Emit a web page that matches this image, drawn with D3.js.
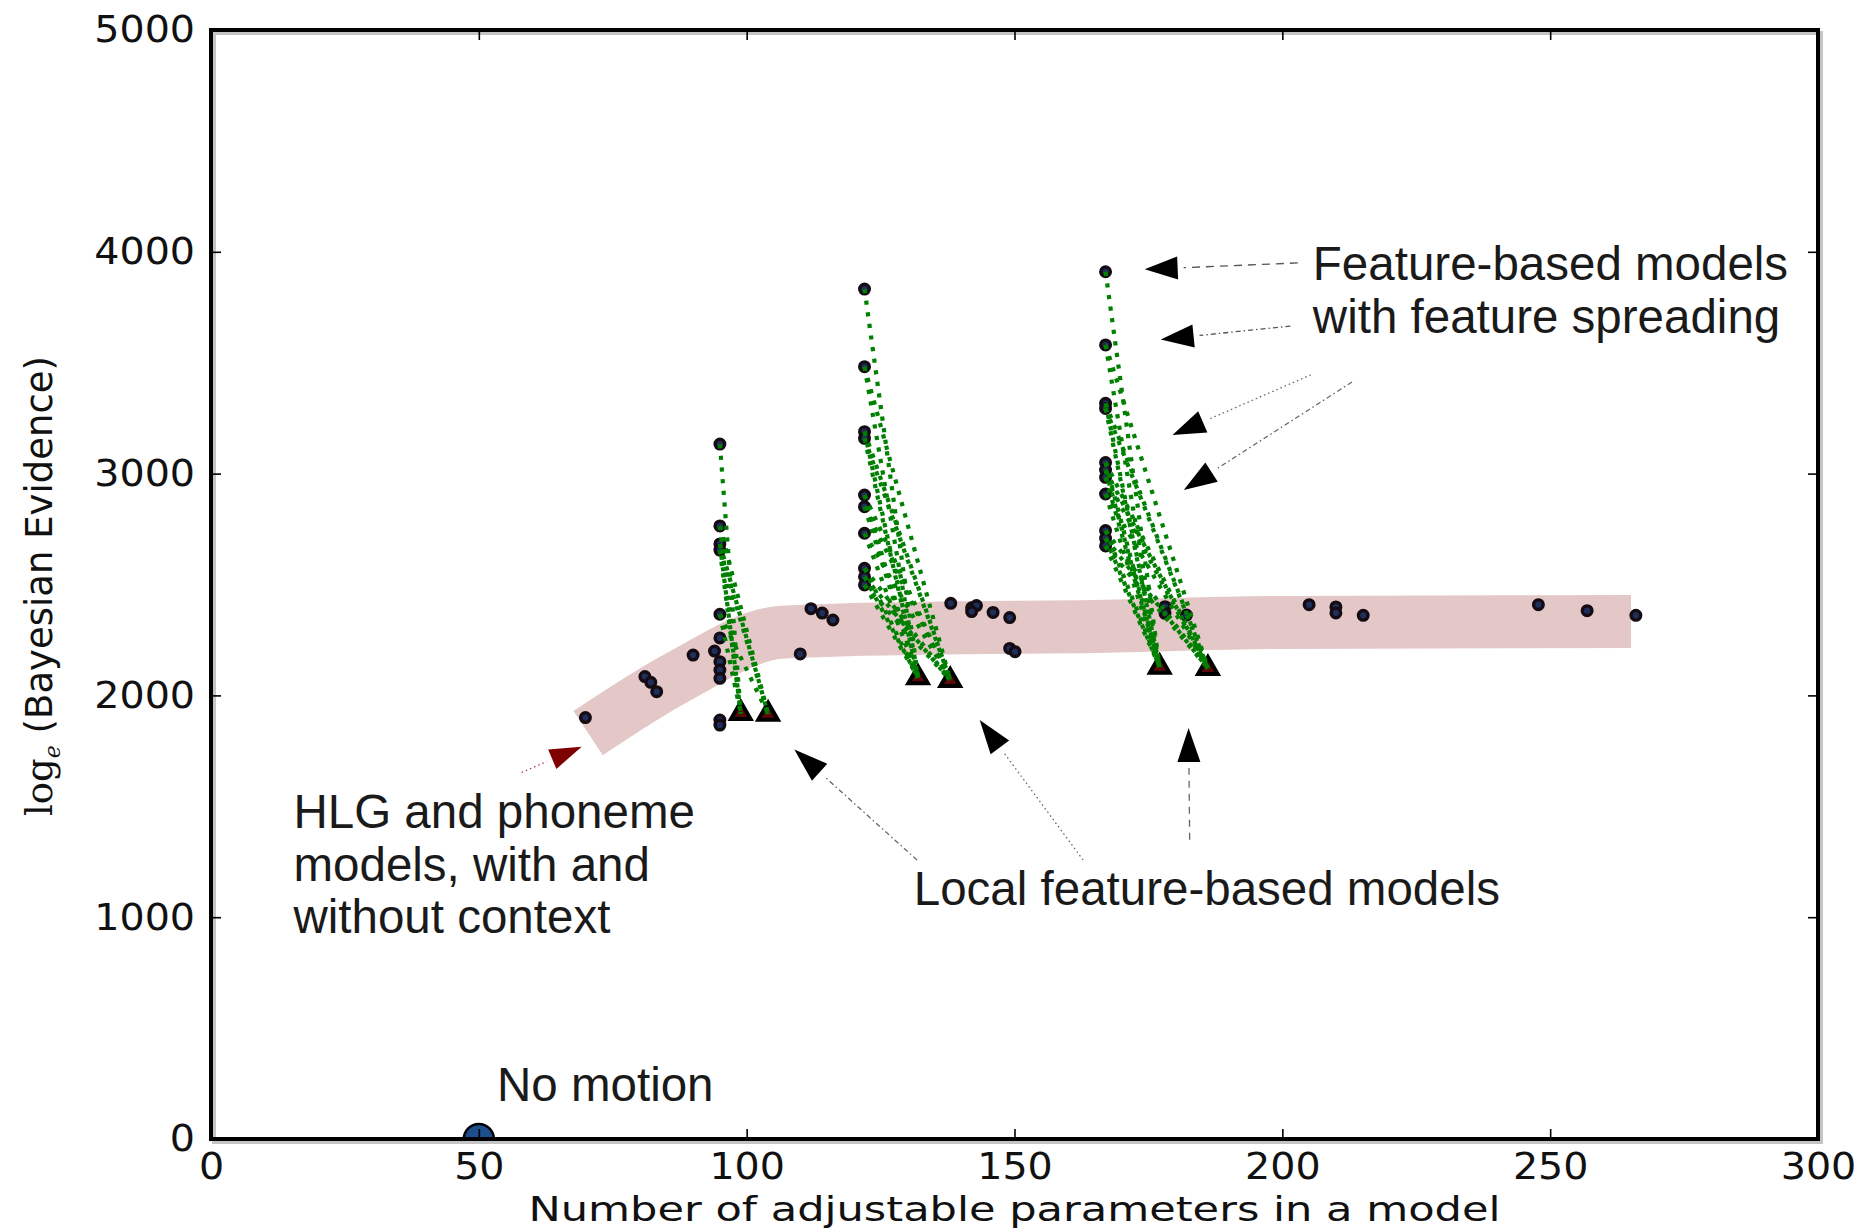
<!DOCTYPE html>
<html>
<head>
<meta charset="utf-8">
<script src="https://cdn.jsdelivr.net/npm/d3@7"></script>
<style>
  html, body { margin: 0; padding: 0; background: #ffffff; }
  svg { display: block; }
</style>
</head>
<body>
<svg id="chart" width="1860" height="1231"></svg>
<script>
// ---- axis ticks ----
const xTicks = [0, 50, 100, 150, 200, 250, 300];
const yTicks = [0, 1000, 2000, 3000, 4000, 5000];

// ---- feature-based models with feature spreading (one column per base size) ----
const spreadA_x = 95.0;
const spreadA_y = [3133, 2764, 2683, 2655, 2366];
const spreadB_x = 122.0;
const spreadB_y = [3832, 3482, 3189, 3159, 2903, 2851, 2731, 2573, 2535, 2498];
const spreadC_x = 167.0;
const spreadC_y = [3910, 3580, 3317, 3294, 3050, 3016, 2983, 2908, 2743, 2708, 2674];

// ---- local feature-based models (two per column) ----
const localA_x = [98.9, 104.0];
const localA_y = [1919, 1916];
const localB_x = [132.0, 138.0];
const localB_y = [2080, 2068];
const localC_x = [177.1, 186.1];
const localC_y = [2128, 2122];

// ---- HLG / phoneme and other models ----
const otherX = [69.9, 81.0, 82.1, 83.2, 90.0, 94.0, 95.0, 95.0, 95.0, 95.0, 95.0, 95.0,
                110.0, 112.0, 114.1, 116.1, 138.1, 142.0, 142.9, 142.0, 146.0, 149.1,
                149.1, 150.1, 178.1, 178.1, 182.1, 205.0, 210.0, 210.0, 215.1, 247.8,
                256.9, 266.0];
const otherY = [1900, 2085, 2059, 2017, 2182, 2200, 2259, 2152, 2114, 2077, 1889, 1866,
                2187, 2391, 2371, 2340, 2415, 2395, 2405, 2378, 2374, 2351,
                2212, 2197, 2400, 2370, 2362, 2409, 2399, 2372, 2361, 2409,
                2382, 2361];

// ---- baseline model ----
const noMotionX = [50];
const noMotionY = [0];

// ---- highlighted trend band (centre line) ----
const bandX = [70.4, 87.5, 106.2, 117.4, 136.1, 162.2, 199.6, 265.1];
const bandY = [1830, 2087, 2284, 2295, 2304, 2310, 2329, 2333];

// ---- chart setup ----
const svg = d3.select("#chart");
const x = d3.scaleLinear().domain([0, 300]).range([211, 1818]);
const y = d3.scaleLinear().domain([0, 5000]).range([1139, 30]);

svg.append("defs").append("clipPath").attr("id", "plotClip")
  .append("rect")
  .attr("x", x(0)).attr("y", y(5000))
  .attr("width", x(300) - x(0)).attr("height", y(0) - y(5000));

const plot = svg.append("g").attr("clip-path", "url(#plotClip)");

// trend band
plot.append("path")
  .datum(d3.zip(bandX, bandY))
  .attr("d", d3.line().x(d => x(d[0])).y(d => y(d[1])).curve(d3.curveMonotoneX))
  .attr("fill", "none")
  .attr("stroke", "#e4c8c8")
  .attr("stroke-width", 53)
  .attr("stroke-linecap", "butt");

// circles for every model
const groups = [
  { cx: spreadA_x, ys: spreadA_y, lx: localA_x, ly: localA_y },
  { cx: spreadB_x, ys: spreadB_y, lx: localB_x, ly: localB_y },
  { cx: spreadC_x, ys: spreadC_y, lx: localC_x, ly: localC_y }
];

const circlePts = d3.zip(otherX, otherY);
groups.forEach(g => g.ys.forEach(v => circlePts.push([g.cx, v])));

plot.append("g").selectAll("circle")
  .data(circlePts)
  .join("circle")
  .attr("cx", d => x(d[0]))
  .attr("cy", d => y(d[1]))
  .attr("r", 4.8)
  .attr("fill", "#1f2f5c")
  .attr("stroke", "#150b12")
  .attr("stroke-width", 3.4);

// local feature-based models as triangles
const tri = d3.symbol().type(d3.symbolTriangle).size(165);
const triPts = [];
groups.forEach(g => g.lx.forEach((v, i) => triPts.push([v, g.ly[i]])));
plot.append("g").selectAll("path")
  .data(triPts)
  .join("path")
  .attr("d", tri)
  .attr("transform", d => `translate(${x(d[0])},${y(d[1])})`)
  .attr("fill", "#5a0808")
  .attr("stroke", "#000")
  .attr("stroke-width", 4)
  .attr("stroke-linejoin", "miter");

// feature-spreading paths from each spread model down to its local models
const links = [];
groups.forEach(g => {
  g.ys.forEach((v, k) => {
    g.lx.forEach((lxv, i) => {
      if (k === 0 && i === 1) return;
      links.push([[g.cx, v], [lxv, g.ly[i]]]);
    });
  });
});
plot.append("g").selectAll("line")
  .data(links)
  .join("line")
  .attr("x1", d => x(d[0][0])).attr("y1", d => y(d[0][1]))
  .attr("x2", d => x(d[1][0])).attr("y2", d => y(d[1][1]))
  .attr("stroke", "#008000")
  .attr("stroke-width", 4.2)
  .attr("stroke-dasharray", "4.2,7.5");

// no-motion baseline model
plot.append("g").selectAll("circle")
  .data(d3.zip(noMotionX, noMotionY))
  .join("circle")
  .attr("cx", d => x(d[0]))
  .attr("cy", d => y(d[1]))
  .attr("r", 15)
  .attr("fill", "#1d4f8e")
  .attr("stroke", "#000")
  .attr("stroke-width", 2.5);

// ---- frame with soft shadow ----
const fw = x(300) - x(0), fh = y(0) - y(5000);
svg.append("rect")
  .attr("x", x(0) + 3).attr("y", y(5000) + 3)
  .attr("width", fw).attr("height", fh)
  .attr("fill", "none").attr("stroke", "#c4c4c4").attr("stroke-width", 4);

// ---- axes (inward ticks on all sides) ----
function styleAxis(g) {
  g.select(".domain").remove();
  g.selectAll(".tick line").attr("stroke", "#000").attr("stroke-width", 1.6);
  g.selectAll(".tick text")
    .attr("font-family", "DejaVu Sans")
    .attr("font-size", 37)
    .attr("fill", "#111");
}

const xAxisG = svg.append("g").attr("transform", `translate(0,${y(0)})`)
  .call(d3.axisBottom(x).tickValues(xTicks).tickSizeInner(-10).tickSizeOuter(0).tickPadding(13.5).tickFormat(d3.format("d")))
  .call(styleAxis);
const yAxisG = svg.append("g").attr("transform", `translate(${x(0)},0)`)
  .call(d3.axisLeft(y).tickValues(yTicks).tickSizeInner(-10).tickSizeOuter(0).tickPadding(16).tickFormat(d3.format("d")))
  .call(styleAxis);
svg.append("g").attr("transform", `translate(0,${y(5000)})`)
  .call(d3.axisTop(x).tickValues(xTicks).tickSizeInner(-10).tickSizeOuter(0).tickFormat(""))
  .call(styleAxis);
svg.append("g").attr("transform", `translate(${x(300)},0)`)
  .call(d3.axisRight(y).tickValues(yTicks).tickSizeInner(-10).tickSizeOuter(0).tickFormat(""))
  .call(styleAxis);

// slightly widened tick labels
[xAxisG, yAxisG].forEach(g => g.selectAll(".tick text").each(function () {
  const len = this.getComputedTextLength();
  d3.select(this).attr("textLength", len * 1.07).attr("lengthAdjust", "spacingAndGlyphs");
}));

svg.append("rect")
  .attr("x", x(0)).attr("y", y(5000))
  .attr("width", fw).attr("height", fh)
  .attr("fill", "none").attr("stroke", "#000").attr("stroke-width", 4);

// ---- axis titles ----
svg.append("text")
  .attr("x", (x(0) + x(300)) / 2)
  .attr("y", 1221)
  .attr("text-anchor", "middle")
  .attr("font-family", "DejaVu Sans")
  .attr("font-size", 34)
  .attr("fill", "#111")
  .attr("textLength", 972)
  .attr("lengthAdjust", "spacingAndGlyphs")
  .text("Number of adjustable parameters in a model");

const yLab = svg.append("text")
  .attr("font-family", "DejaVu Sans")
  .attr("font-size", 37)
  .attr("fill", "#111");
yLab.append("tspan").attr("font-family", "DejaVu Serif").text("log");
yLab.append("tspan").attr("font-family", "DejaVu Serif").attr("font-style", "italic")
  .attr("font-size", 22).attr("dy", 8).text("e");
yLab.append("tspan").attr("dy", -8).text(" (Bayesian Evidence)");
const ylLen = yLab.node().getBBox().width;
yLab.attr("transform", `translate(52,816) rotate(-90) scale(${460 / ylLen},1)`);

// ---- annotations ----
const ann = svg.append("g");
const annFont = { family: "Liberation Sans", size: 47.5, fill: "#1a1a1a" };

function annText(xv, yv, lines, lineGap) {
  const t = ann.append("text")
    .attr("x", x(xv)).attr("y", y(yv))
    .attr("font-family", annFont.family)
    .attr("font-size", annFont.size)
    .attr("fill", annFont.fill);
  lines.forEach((s, i) => {
    t.append("tspan").attr("x", x(xv)).attr("dy", i === 0 ? 0 : lineGap).text(s);
  });
}

function arrow(tail, tip, dash, color, headColor, hl, hw) {
  const x1 = x(tail[0]), y1 = y(tail[1]);
  const x2 = x(tip[0]), y2 = y(tip[1]);
  const dx = x2 - x1, dy = y2 - y1, L = Math.hypot(dx, dy);
  const ux = dx / L, uy = dy / L;
  const bx = x2 - ux * hl, by = y2 - uy * hl;
  ann.append("line")
    .attr("x1", x1).attr("y1", y1).attr("x2", bx - ux * 6).attr("y2", by - uy * 6)
    .attr("stroke", color).attr("stroke-width", 1.3)
    .attr("stroke-dasharray", dash);
  ann.append("path")
    .attr("d", `M${x2},${y2}L${bx - uy * hw},${by + ux * hw}L${bx + uy * hw},${by - ux * hw}Z`)
    .attr("fill", headColor);
}

// feature spreading annotation
annText(205.7, 3873, ["Feature-based models", "with feature spreading"], 53);
arrow([202.9, 3950], [174.3, 3921], "8,6", "#555", "#000", 33, 11.5);
arrow([201.5, 3665], [177.3, 3605], "5,3,1.5,3", "#555", "#000", 33, 11.5);
arrow([205.3, 3445], [179.5, 3174], "1.5,3", "#666", "#000", 33, 11.5);
arrow([213.0, 3413], [181.6, 2926], "5,3,1.5,3", "#666", "#000", 33, 11.5);

// local models annotation
annText(131.2, 1055, ["Local feature-based models"], 0);
arrow([131.8, 1258], [108.9, 1756], "5,3,1.5,3", "#666", "#000", 34, 11.5);
arrow([162.8, 1258], [143.5, 1889], "1.5,3", "#666", "#000", 34, 11.5);
arrow([182.7, 1349], [182.5, 1853], "7,6", "#666", "#000", 34, 11.5);

// HLG / phoneme annotation
annText(15.4, 1402, ["HLG and phoneme", "models, with and", "without context"], 52.5);
arrow([58.0, 1653], [69.2, 1769], "1.5,3", "#a04040", "#7f0000", 32, 10.5);

// baseline annotation
annText(53.4, 171, ["No motion"], 0);
</script>
</body>
</html>
